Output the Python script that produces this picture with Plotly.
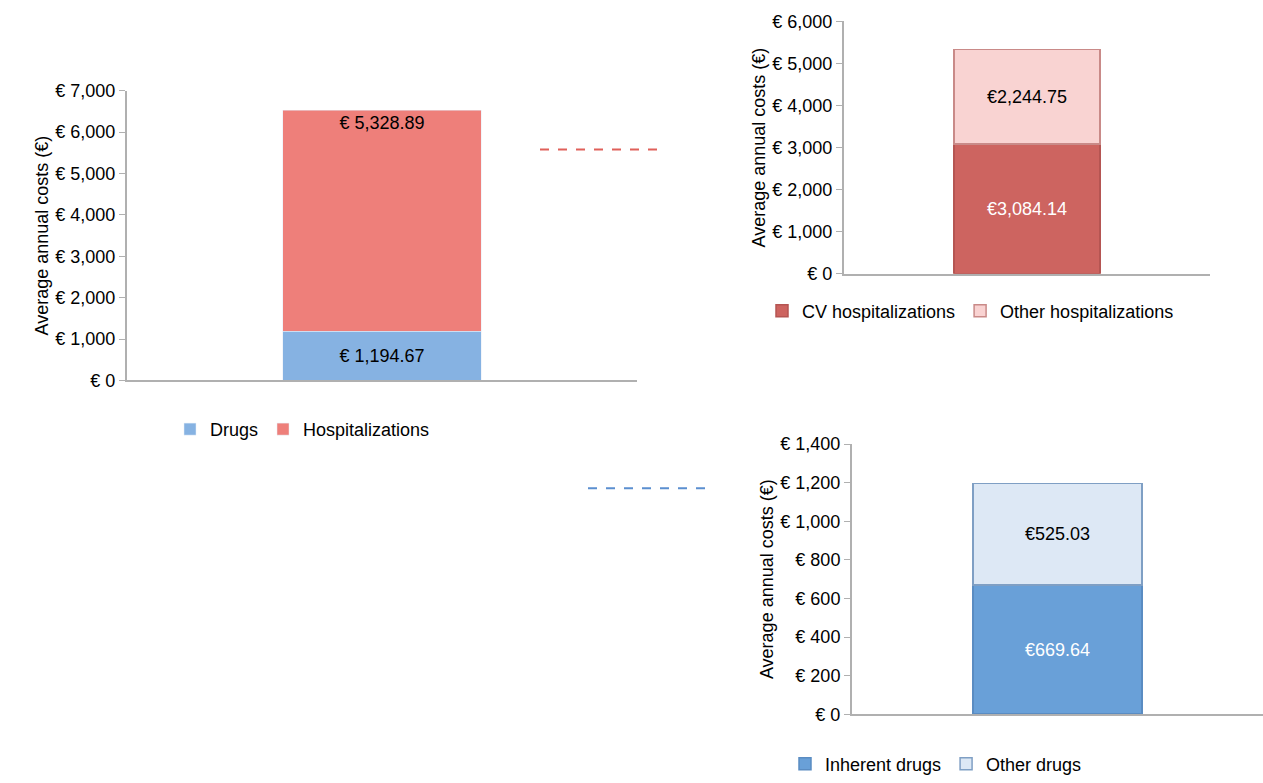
import plotly.graph_objects as go

W, H = 1263, 783

# main chart
main_cat = ["Total"]
drugs = [1194.67]
hosp = [5328.89]
# hospitalizations breakdown
cv_hosp = [3084.14]
other_hosp = [2244.75]
# drugs breakdown
inherent_drugs = [669.64]
other_drugs = [525.03]

def px_x(a, b):
    return [a / W, b / W]

def py(p):
    # compensate for the vertical squeeze seen in the screenshot
    return 1 - ((p - 8.5) / 0.976) / H

def px_y(top, bottom):
    return [py(bottom), py(top)]

fig = go.Figure()

def lbl(v, space=True):
    return ("€ " if space else "€") + f"{v:,.2f}"

FS = 18

fig.add_trace(go.Bar(x=main_cat, y=drugs, name="Drugs", marker=dict(color="#86b2e2"),
                     text=[lbl(v) for v in drugs], textposition="inside", insidetextanchor="middle",
                     textfont=dict(color="black", size=FS), width=0.39, legend="legend"))
fig.add_trace(go.Bar(x=main_cat, y=hosp, name="Hospitalizations", marker=dict(color="#ee7f7a"),
                     text=[lbl(v) for v in hosp], textposition="inside", insidetextanchor="end",
                     textfont=dict(color="black", size=FS), width=0.39, legend="legend"))

fig.add_trace(go.Bar(x=main_cat, y=cv_hosp, name="CV hospitalizations", xaxis="x2", yaxis="y2",
                     marker=dict(color="#cd6460", line=dict(color="#b55552", width=1.5)),
                     text=[lbl(v, False) for v in cv_hosp], textposition="inside", insidetextanchor="middle",
                     textfont=dict(color="white", size=FS), width=0.40, legend="legend2"))
fig.add_trace(go.Bar(x=main_cat, y=other_hosp, name="Other hospitalizations", xaxis="x2", yaxis="y2",
                     marker=dict(color="#f9d3d2", line=dict(color="#c98a88", width=1.5)),
                     text=[lbl(v, False) for v in other_hosp], textposition="inside", insidetextanchor="middle",
                     textfont=dict(color="black", size=FS), width=0.40, legend="legend2"))

fig.add_trace(go.Bar(x=main_cat, y=inherent_drugs, name="Inherent drugs", xaxis="x3", yaxis="y3",
                     marker=dict(color="#69a0d8", line=dict(color="#5a8cc2", width=1.5)),
                     text=[lbl(v, False) for v in inherent_drugs], textposition="inside", insidetextanchor="middle",
                     textfont=dict(color="white", size=FS), width=0.41, legend="legend3"))
fig.add_trace(go.Bar(x=main_cat, y=other_drugs, name="Other drugs", xaxis="x3", yaxis="y3",
                     marker=dict(color="#dde8f5", line=dict(color="#7f9fc4", width=1.5)),
                     text=[lbl(v, False) for v in other_drugs], textposition="inside", insidetextanchor="middle",
                     textfont=dict(color="black", size=FS), width=0.41, legend="legend3"))

xax = dict(showticklabels=False, showline=True, linecolor="#b0b0b0", linewidth=2, ticks="", showgrid=False)
yax = dict(showline=True, linecolor="#b0b0b0", linewidth=2, showgrid=False, zeroline=False,
           tickprefix="€ ", tickformat=",", ticks="outside", ticklen=6, tickcolor="#b0b0b0",
           tickfont=dict(size=FS, color="black"),
           title=dict(text="Average annual costs (€)", font=dict(size=FS, color="black"), standoff=2))

legend_common = dict(orientation="h", font=dict(size=FS, color="black"), bgcolor="rgba(0,0,0,0)",
                     xanchor="left", yanchor="middle", traceorder="normal")

fig.update_layout(
    width=W, height=H, barmode="stack", plot_bgcolor="white", paper_bgcolor="white",
    margin=dict(l=0, r=0, t=0, b=0), font=dict(family="Liberation Sans, Arial, sans-serif"),
    xaxis=dict(xax, domain=px_x(127, 637), anchor="y"),
    yaxis=dict(yax, domain=px_y(91, 387), range=[0, 7000], dtick=1000, anchor="x"),
    xaxis2=dict(xax, domain=px_x(844, 1210), anchor="y2"),
    yaxis2=dict(yax, domain=px_y(20, 278), range=[0, 6000], dtick=1000, anchor="x2"),
    xaxis3=dict(xax, domain=px_x(852, 1263), anchor="y3"),
    yaxis3=dict(yax, domain=px_y(452, 728), range=[0, 1400], dtick=200, anchor="x3"),
    legend=dict(legend_common, x=170 / W, y=py(437)),
    legend2=dict(legend_common, x=762 / W, y=py(316)),
    legend3=dict(legend_common, x=785 / W, y=py(779)),
    showlegend=True,
)

fig.add_shape(type="line", xref="paper", yref="paper", x0=540 / W, x1=660 / W, y0=py(151), y1=py(151),
              line=dict(color="#e0605a", width=2, dash="dash"))
fig.add_shape(type="line", xref="paper", yref="paper", x0=588 / W, x1=708 / W, y0=py(497), y1=py(497),
              line=dict(color="#5b8fd0", width=2, dash="dash"))

fig.write_html("out.html", config={"displayModeBar": False},
               post_script="document.body.style.margin='0';")
